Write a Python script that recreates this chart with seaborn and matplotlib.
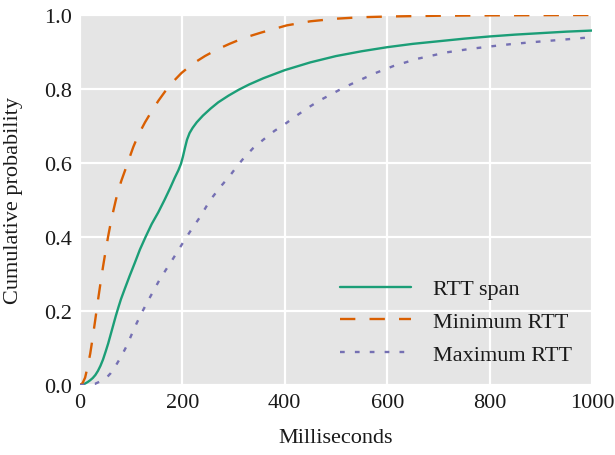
import matplotlib
matplotlib.use("Agg")
import matplotlib.pyplot as plt
import seaborn as sns
import pandas as pd

# RTT span (green, solid)
span_ms = [0, 5, 10, 15, 20, 25, 30, 35, 40, 45, 50, 55, 60, 65, 70, 75, 80, 88, 97, 107, 117,
           128, 140, 153, 165, 176, 185, 192, 197, 201, 205, 209, 214, 220, 228, 240, 255, 270,
           290, 310, 330, 358, 400, 450, 500, 550, 600, 650, 700, 750, 800, 850, 900, 950, 1000]
span_p = [0, 0.001, 0.004, 0.008, 0.013, 0.019, 0.027, 0.038, 0.052, 0.069, 0.09, 0.112, 0.137,
          0.162, 0.187, 0.21, 0.232, 0.262, 0.295, 0.33, 0.366, 0.40, 0.435, 0.467, 0.50, 0.532,
          0.56, 0.58, 0.597, 0.617, 0.641, 0.663, 0.681, 0.695, 0.71, 0.728, 0.747, 0.764, 0.782,
          0.798, 0.812, 0.829, 0.851, 0.872, 0.889, 0.902, 0.913, 0.922, 0.929, 0.936, 0.942,
          0.947, 0.951, 0.955, 0.958]

# Minimum RTT (orange, dashed)
min_ms = [0, 5, 10, 15, 20, 25, 30, 35, 40, 45, 50, 55, 60, 65, 70, 75, 81, 88, 94, 104, 114,
          127, 140, 153, 166, 182, 198, 220, 244, 268, 292, 320, 355, 404, 450, 500, 550, 605,
          700, 800, 1000]
min_p = [0, 0.005, 0.02, 0.05, 0.085, 0.13, 0.178, 0.228, 0.275, 0.32, 0.362, 0.402, 0.438, 0.47,
         0.50, 0.527, 0.553, 0.58, 0.604, 0.643, 0.676, 0.71, 0.74, 0.768, 0.793, 0.82, 0.843,
         0.868, 0.889, 0.907, 0.922, 0.938, 0.953, 0.972, 0.983, 0.99, 0.994, 0.996, 0.998,
         0.999, 1.0]

# Maximum RTT (purple, dotted)
max_ms = [0, 15, 29, 40, 52, 60, 68, 80, 91, 101, 111, 122, 133, 145, 156, 169, 182, 195, 208,
          221, 234, 247, 260, 277, 293, 306, 319, 338, 358, 380, 400, 423, 446, 468, 491, 514,
          537, 575, 612, 660, 716, 760, 801, 840, 879, 940, 1000]
max_p = [0, 0.001, 0.003, 0.01, 0.02, 0.032, 0.048, 0.076, 0.105, 0.137, 0.168, 0.199, 0.228,
         0.258, 0.286, 0.314, 0.342, 0.371, 0.40, 0.427, 0.453, 0.483, 0.51, 0.54, 0.566, 0.59,
         0.612, 0.64, 0.663, 0.687, 0.705, 0.728, 0.75, 0.769, 0.786, 0.803, 0.818, 0.842,
         0.862, 0.882, 0.899, 0.908, 0.915, 0.921, 0.926, 0.933, 0.94]

labels = ["RTT span", "Minimum RTT", "Maximum RTT"]
colors = ["#1b9e77", "#d95f02", "#7570b3"]
dashes = [None, (6.5, 6.0), (2.0, 4.3)]

sns.set_style("darkgrid", {"axes.facecolor": "#e5e5e5", "grid.color": "white"})
plt.rcParams["font.family"] = ["Liberation Serif", "DejaVu Serif"]

fig = plt.figure(figsize=(6.15, 4.56), dpi=100)
ax = fig.add_axes([80 / 615, 1 - 386 / 456, 512 / 615, 370 / 456])

series = [(span_ms, span_p), (min_ms, min_p), (max_ms, max_p)]
for (xs, ys), lab, col, dsh in zip(series, labels, colors, dashes):
    df = pd.DataFrame({"ms": xs, "p": ys})
    sns.lineplot(data=df, x="ms", y="p", ax=ax, color=col, lw=1.7, label=lab, sort=False)
    if dsh is not None:
        ax.lines[-1].set_dashes(dsh)

ax.set_xlim(0, 1000)
ax.set_ylim(0, 1.0)
ax.set_xticks([0, 200, 400, 600, 800, 1000])
ax.set_yticks([0.0, 0.2, 0.4, 0.6, 0.8, 1.0])
ax.set_yticklabels(["0.0", "0.2", "0.4", "0.6", "0.8", "1.0"])
ax.grid(True, color="white", lw=1.6)
for s in ax.spines.values():
    s.set_visible(False)
ax.tick_params(axis="both", length=0, labelsize=16, pad=6, colors="#1a1a1a")
ax.set_xlabel("Milliseconds", fontsize=16, labelpad=11, color="#1a1a1a")
ax.set_ylabel("Cumulative probability", fontsize=16, labelpad=15, color="#1a1a1a")

leg = ax.legend(loc="lower right", frameon=False, fontsize=16, handlelength=3.2,
                handletextpad=1.0, labelspacing=0.55, bbox_to_anchor=(1.0, 0.0))
for t in leg.get_texts():
    t.set_color("#1a1a1a")

fig.savefig("out.png", dpi=100)
